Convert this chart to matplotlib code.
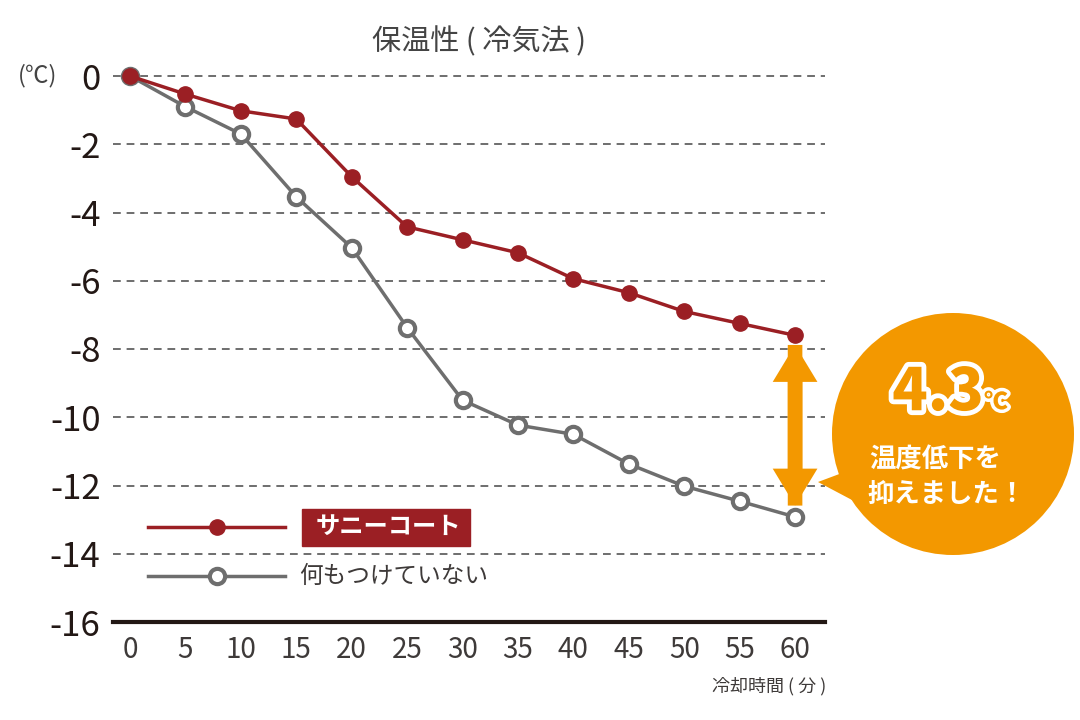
import matplotlib
matplotlib.use("Agg")
import matplotlib.pyplot as plt
import matplotlib.patheffects as pe
from matplotlib.patches import Circle, Polygon, Rectangle, FancyArrowPatch
from matplotlib.lines import Line2D

plt.rcParams['font.family'] = ['Noto Sans CJK JP', 'DejaVu Sans']

# data
minutes = [0, 5, 10, 15, 20, 25, 30, 35, 40, 45, 50, 55, 60]
sunny_coat = [0, -0.53, -1.02, -1.26, -2.95, -4.42, -4.8, -5.18, -5.94, -6.35, -6.9, -7.25, -7.6]
nothing = [0, -0.9, -1.7, -3.54, -5.03, -7.37, -9.5, -10.23, -10.5, -11.37, -12.02, -12.46, -12.92]
y_ticks = [0, -2, -4, -6, -8, -10, -12, -14, -16]
labels = ['サニーコート', '何もつけていない']
diff_text = '4.3'

RED = '#9B1F24'
GRAY = '#6E6E6E'
ORANGE = '#F39800'

fig = plt.figure(figsize=(10.8, 7.2), dpi=100)
ax = fig.add_axes([113/1080, 98/720, 712/1080, 546/720])
ax.set_xlim(-1.53, 62.7)
ax.set_ylim(-16, 0)

for s in ['top', 'left', 'right']:
    ax.spines[s].set_visible(False)
ax.spines['bottom'].set_linewidth(3)
ax.spines['bottom'].set_color('#231815')

for v in y_ticks[:-1]:
    ax.axhline(v, color='#6E6E6E', lw=1.4, ls=(0, (4, 3)), zorder=1, clip_on=False)

ax.plot(minutes, nothing, color=GRAY, lw=2.5, marker='o', ms=11, mfc='white',
        mec=GRAY, mew=3, zorder=3, clip_on=False)
ax.plot(minutes, sunny_coat, color=RED, lw=2.5, marker='o', ms=11, mfc=RED,
        mec=RED, zorder=4, clip_on=False)

ax.set_yticks(y_ticks)
ax.set_yticklabels([str(v) for v in y_ticks], fontsize=25, color='#231815')
ax.set_xticks(minutes)
ax.set_xticklabels([str(m) for m in minutes], fontsize=20, color='#3E3A39')
ax.tick_params(axis='both', length=0)
ax.tick_params(axis='y', pad=9)
ax.tick_params(axis='x', pad=9)

# double arrow between end points
style = 'simple,head_width=2.3,head_length=1.9,tail_width=0.75'
for a, b in [((minutes[-1], sunny_coat[-1] - 0.2), (minutes[-1], nothing[-1] + 0.25)),
             ((minutes[-1], nothing[-1] + 0.25), (minutes[-1], sunny_coat[-1] - 0.2))]:
    ax.add_patch(FancyArrowPatch(a, b, arrowstyle=style, mutation_scale=14,
                                 color=ORANGE, lw=0, zorder=5, clip_on=False))

# overlay in pixel coordinates
ov = fig.add_axes([0, 0, 1, 1], zorder=10)
ov.set_xlim(0, 1080)
ov.set_ylim(720, 0)
ov.axis('off')
ov.patch.set_alpha(0)

ov.text(479, 42, '保温性 ( 冷気法 )', fontsize=21, color='#444444', ha='center', va='center')
ov.text(38, 76, '(℃)', fontsize=17, color='#444444', ha='center', va='center')
ov.text(826, 686, '冷却時間 ( 分 )', fontsize=13, color='#3E3A39', ha='right', va='center')

# legend
ov.add_line(Line2D([148, 285], [527, 527], color=RED, lw=2.5))
ov.add_line(Line2D([217], [527], marker='o', ms=11, color=RED))
ov.add_patch(Rectangle((302, 509), 168, 37, color=RED))
ov.text(388, 527, labels[0], fontsize=17.5, color='white', weight='bold', ha='center', va='center')
ov.add_line(Line2D([148, 285], [576, 576], color=GRAY, lw=2.5))
ov.add_line(Line2D([217], [576], marker='o', ms=11, mfc='white', mec=GRAY, mew=3))
ov.text(299, 576, labels[1], fontsize=17, color='#3E3A39', ha='left', va='center')

# speech bubble
ov.add_patch(Circle((953, 434), 121, color=ORANGE, lw=0))
ov.add_patch(Polygon([[818, 482], [850, 470], [852, 500]], closed=True, color=ORANGE, lw=0))
stroke = [pe.withStroke(linewidth=7, foreground='white')]
ov.text(938, 393, diff_text, fontsize=42, weight='black', color=ORANGE, ha='center',
        va='center', path_effects=stroke)
ov.text(996, 402, '℃', fontsize=17, weight='black', color=ORANGE, ha='center',
        va='center', path_effects=[pe.withStroke(linewidth=5, foreground='white')])
ov.text(935, 460, '温度低下を', fontsize=19, weight='bold', color='white', ha='center', va='center')
ov.text(947, 494, '抑えました！', fontsize=19, weight='bold', color='white', ha='center', va='center')

fig.savefig('out.png', dpi=100)
